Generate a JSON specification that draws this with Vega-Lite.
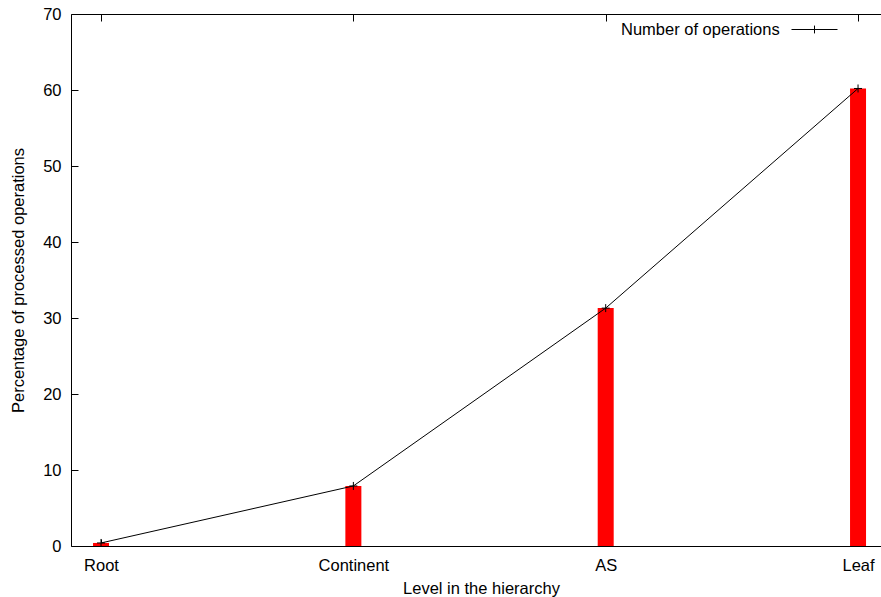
{
  "$schema": "https://vega.github.io/schema/vega-lite/v6.json",
  "width": 810,
  "height": 532,
  "autosize": "none",
  "padding": {"left": 71, "top": 14, "right": 0, "bottom": 51},
  "data": {
    "values": [
      {"idx": 0, "level": "Root", "pct": 0.4, "series": "Number of operations"},
      {"idx": 1, "level": "Continent", "pct": 7.9, "series": "Number of operations"},
      {"idx": 2, "level": "AS", "pct": 31.3, "series": "Number of operations"},
      {"idx": 3, "level": "Leaf", "pct": 60.2, "series": "Number of operations"}
    ]
  },
  "config": {
    "view": {"stroke": null},
    "font": "Liberation Sans",
    "axis": {
      "grid": false,
      "domainColor": "black",
      "domainWidth": 1,
      "tickColor": "black",
      "tickWidth": 1,
      "tickSize": -7,
      "labelColor": "black",
      "titleColor": "black",
      "labelFontSize": 16.5,
      "titleFontSize": 16.5,
      "titleFontWeight": "normal",
      "labelFont": "Liberation Sans",
      "titleFont": "Liberation Sans"
    },
    "legend": {
      "titleFont": "Liberation Sans",
      "titleFontSize": 16.5,
      "titleFontWeight": "normal",
      "titleColor": "black"
    }
  },
  "encoding": {
    "y": {
      "field": "pct",
      "type": "quantitative",
      "scale": {"domain": [0, 70], "nice": false},
      "axis": {
        "title": "Percentage of processed operations",
        "values": [0, 10, 20, 30, 40, 50, 60, 70],
        "labelPadding": 17,
        "titlePadding": 16
      }
    }
  },
  "layer": [
    {
      "mark": {"type": "bar", "size": 16, "color": "#ff0000"},
      "encoding": {
        "x": {
          "field": "idx",
          "type": "quantitative",
          "scale": {"domain": [-0.119, 3.091], "nice": false, "zero": false, "padding": 0},
          "axis": {
            "orient": "bottom",
            "title": "Level in the hierarchy",
            "titleX": 410,
            "titleAlign": "center",
            "values": [0, 1, 2, 3],
            "labelExpr": "['Root','Continent','AS','Leaf'][datum.value]",
            "labelPadding": 18,
            "titlePadding": 7
          }
        }
      }
    },
    {
      "mark": {
        "type": "line",
        "color": "black",
        "strokeWidth": 1,
        "point": {
          "shape": "M-1,0H1M0,-1V1",
          "filled": false,
          "stroke": "black",
          "strokeWidth": 1,
          "size": 64
        }
      },
      "encoding": {
        "x": {
          "field": "idx",
          "type": "quantitative",
          "axis": {
            "orient": "top",
            "title": null,
            "labels": false,
            "values": [0, 1, 2, 3]
          }
        },
        "stroke": {
          "field": "series",
          "type": "nominal",
          "scale": {"range": ["black"]},
          "legend": {
            "orient": "none",
            "legendX": 550,
            "legendY": -8,
            "padding": 0,
            "title": "Number of operations",
            "titleOrient": "left",
            "titlePadding": 11,
            "titleBaseline": "alphabetic",
            "titleAnchor": "end",
            "labelExpr": "''",
            "labelOffset": 0,
            "symbolType": "M-1,0H1M0,-0.17V0.17",
            "symbolSize": 2116,
            "symbolStrokeColor": "black",
            "symbolStrokeWidth": 1,
            "symbolFillColor": "transparent"
          }
        }
      }
    }
  ],
  "resolve": {"axis": {"x": "independent"}}
}
